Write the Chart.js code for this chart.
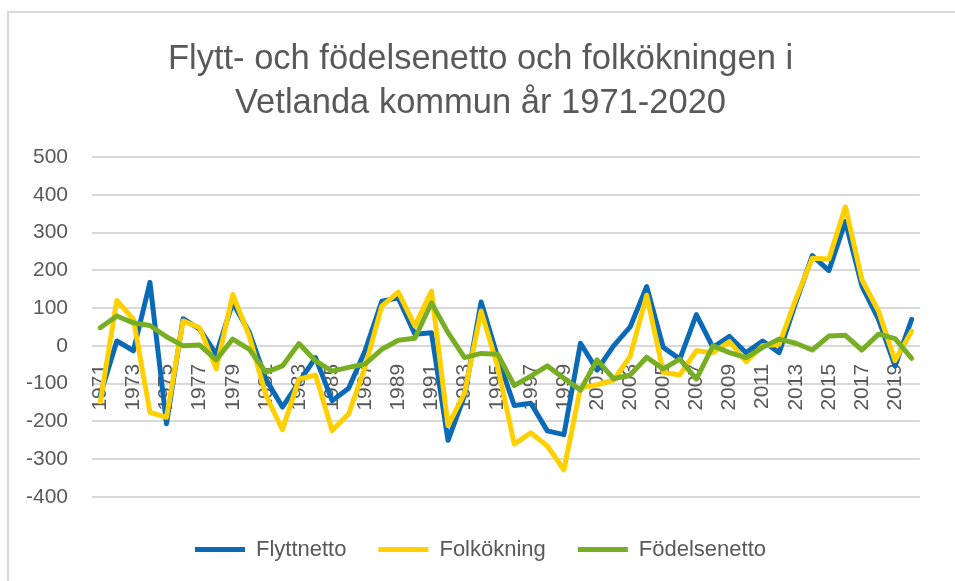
<!DOCTYPE html>
<html>
<head>
<meta charset="utf-8">
<script src="https://cdn.jsdelivr.net/npm/chart.js@4.4.1/dist/chart.umd.min.js"></script>
<style>
  html, body { margin: 0; padding: 0; background: #fff; }
  #wrap { position: relative; width: 955px; height: 581px; overflow: hidden; }
  #frame { position: absolute; left: 7px; top: 11px; width: 1000px; height: 700px;
           border-left: 2px solid #d9d9d9; border-top: 2px solid #d9d9d9; }
  #chart { position: absolute; left: 0; top: 0; }
</style>
</head>
<body>
<div id="wrap">
  <div id="frame"></div>
  <canvas id="chart" width="955" height="581"></canvas>
</div>
<script>
const years = ['1971','1972','1973','1974','1975','1976','1977','1978','1979','1980',
               '1981','1982','1983','1984','1985','1986','1987','1988','1989','1990',
               '1991','1992','1993','1994','1995','1996','1997','1998','1999','2000',
               '2001','2002','2003','2004','2005','2006','2007','2008','2009','2010',
               '2011','2012','2013','2014','2015','2016','2017','2018','2019','2020'];

const flyttnetto = [-130, 13, -13, 168, -206, 72, 44, -22, 114, 36,
                    -88, -162, -96, -31, -145, -112, -12, 118, 127, 31,
                    35, -250, -132, 116, -30, -158, -152, -225, -235, 7,
                    -64, 0, 50, 157, -4, -35, 83, -4, 25, -18,
                    13, -18, 114, 239, 199, 329, 158, 70, -54, 70];

const folkokning = [-148, 120, 70, -176, -189, 66, 48, -61, 136, 26,
                    -130, -222, -88, -77, -224, -180, -55, 105, 142, 53,
                    145, -211, -125, 92, -55, -260, -230, -265, -328, -111,
                    -103, -91, -28, 134, -70, -77, -13, -18, 11, -42,
                    0, 4, 123, 232, 230, 368, 175, 92, -39, 39];

const fodelsenetto = [48, 79, 61, 54, 24, 0, 2, -37, 18, -9,
                      -70, -53, 6, -40, -67, -57, -48, -9, 15, 20,
                      114, 35, -31, -20, -22, -105, -80, -53, -86, -117,
                      -37, -87, -77, -30, -61, -35, -88, 0, -18, -31,
                      -4, 18, 7, -11, 26, 28, -11, 31, 19, -33];

const textColor = '#595959';
const gridColor = '#d9d9d9';
const fontName = "'Liberation Sans', Arial, sans-serif";

function serie(label, data, color, order) {
    return {
        label: label,
        data: data,
        borderColor: color,
        backgroundColor: color,
        borderWidth: 5,
        borderCapStyle: 'round',
        borderJoinStyle: 'round',
        pointRadius: 0,
        pointHoverRadius: 0,
        pointStyle: 'line',
        tension: 0,
        fill: false,
        order: order
    };
}

const config = {
    type: 'line',
    data: {
        labels: years,
        datasets: [
            serie('Flyttnetto', flyttnetto, '#0a6ab6', 3),
            serie('Folkökning', folkokning, '#ffd000', 2),
            serie('Födelsenetto', fodelsenetto, '#78ae24', 1)
        ]
    },
    options: {
        responsive: false,
        animation: false,
        devicePixelRatio: 1,
        layout: { padding: { left: 22, right: 16, top: 0, bottom: 10.5 } },
        plugins: {
            title: {
                display: true,
                text: ['Flytt- och födelsenetto och folkökningen i', 'Vetlanda kommun år 1971-2020'],
                color: textColor,
                font: { family: fontName, size: 34.5, weight: 'normal', lineHeight: 1.26 },
                padding: { top: 38, bottom: 32 }
            },
            legend: {
                position: 'bottom',
                title: { display: true, text: '', font: { size: 1, lineHeight: 1 }, padding: { top: 8.5, bottom: 0 } },
                labels: {
                    usePointStyle: true,
                    pointStyleWidth: 50,
                    padding: 32,
                    color: textColor,
                    font: { family: fontName, size: 22 },
                    sort: (a, b) => a.datasetIndex - b.datasetIndex
                }
            },
            tooltip: { enabled: false }
        },
        scales: {
            x: {
                position: { y: 0 },
                offset: true,
                grid: { display: false, drawTicks: false },
                border: { display: false },
                ticks: {
                    autoSkip: false,
                    minRotation: 90,
                    maxRotation: 90,
                    padding: 18,
                    color: textColor,
                    font: { family: fontName, size: 21 },
                    callback: function(value, index) {
                        return index % 2 === 0 ? this.getLabelForValue(value) : '';
                    }
                },
                afterFit: function(scale) { scale.height = 0; }
            },
            y: {
                min: -400,
                max: 500,
                grid: { color: gridColor, lineWidth: 2, drawTicks: false },
                border: { display: false },
                ticks: {
                    stepSize: 100,
                    padding: 24,
                    color: textColor,
                    font: { family: fontName, size: 21 }
                },
                afterFit: function(scale) { scale.width = 70; }
            }
        }
    }
};

new Chart(document.getElementById('chart'), config);
</script>
</body>
</html>
